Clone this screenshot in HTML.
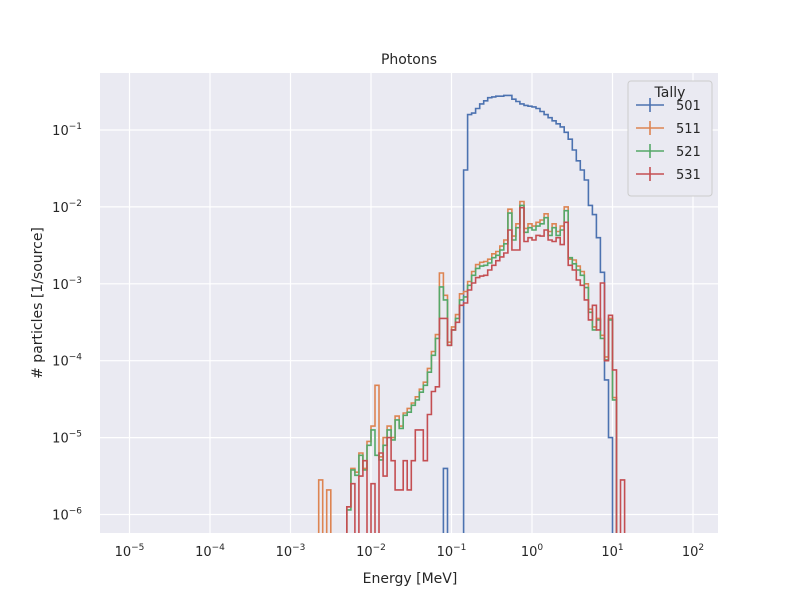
<!DOCTYPE html>
<html><head><meta charset="utf-8"><style>
html,body{margin:0;padding:0;background:#fff;overflow:hidden;width:800px;height:600px;}
svg{display:block;}
svg text{font-family:"DejaVu Sans","Liberation Sans",sans-serif;fill:#262626;}
</style></head><body>
<svg id="chart" width="800" height="600" xmlns="http://www.w3.org/2000/svg">
<defs><clipPath id="clip"><rect x="100" y="73" width="618" height="460"/></clipPath></defs>
<rect x="100" y="73" width="618" height="460" fill="#eaeaf2"/>
<g id="grid"></g>
<g id="series" clip-path="url(#clip)"></g>
<g id="ticks"></g>
<text x="409" y="64" font-size="14" text-anchor="middle">Photons</text>
<text x="410" y="583" font-size="14" text-anchor="middle">Energy [MeV]</text>
<text transform="translate(42,303) rotate(-90)" font-size="14" text-anchor="middle"># particles [1/source]</text>
<g id="legend">
<rect x="628" y="81" width="84" height="115" rx="3" fill="#eaeaf2" stroke="#cccccc"/>
<text x="670" y="97" font-size="14" text-anchor="middle">Tally</text>
</g>
</svg>
<script>
// bin grid: log10(E) start and step
const binStart = -2.70;
const binStep = 0.05;
// log10 of particle counts per bin (null = empty)
const tally501 = [null,null,null,null,null,null,null,null,null,null,null,null,null,null,null,null,null,null,null,null,null,null,null,null,null,null,null,null,null,null,null,null,-5.4,null,null,null,null,-1.52,-0.80,-0.78,-0.72,-0.66,-0.62,-0.58,-0.57,-0.56,-0.56,-0.55,-0.55,-0.60,-0.63,-0.66,-0.68,-0.69,-0.70,-0.72,-0.76,-0.80,-0.84,-0.88,-0.92,-0.96,-1.03,-1.12,-1.26,-1.40,-1.52,-1.65,-1.98,-2.10,-2.40,-2.85,-4.25,-5.0,null,null,null,null];
const tally511 = [null,-5.55,null,-5.68,null,null,null,null,-5.9,-5.4,-5.45,-5.2,-5.4,-5.05,-4.85,-4.32,-5.25,-5.0,-4.85,-5.0,-4.72,-4.85,-4.68,-4.62,-4.55,-4.47,-4.37,-4.28,-4.1,-3.88,-3.66,-2.86,-3.15,-3.76,-3.56,-3.40,-3.13,-3.10,-2.97,-2.84,-2.75,-2.72,-2.71,-2.68,-2.61,-2.58,-2.51,-2.43,-2.03,-2.38,-2.22,-1.93,-2.28,-2.22,-2.25,-2.20,-2.17,-2.09,-2.32,-2.22,-2.32,-2.25,-2.0,-2.68,-2.69,-2.77,-2.84,-3.0,-3.33,-3.56,-3.45,-3.67,-3.95,-3.45,-4.48,null,null,null];
const tally521 = [null,null,null,null,null,null,null,null,-5.94,-5.42,-5.49,-5.23,-5.42,-5.10,-4.90,-5.23,-5.29,-5.10,-4.90,-5.03,-4.77,-4.88,-4.71,-4.67,-4.58,-4.51,-4.41,-4.32,-4.15,-3.93,-3.71,-3.04,-3.21,-3.80,-3.60,-3.45,-3.21,-3.17,-3.02,-2.89,-2.80,-2.77,-2.76,-2.73,-2.66,-2.63,-2.56,-2.48,-2.08,-2.43,-2.27,-1.98,-2.33,-2.27,-2.30,-2.25,-2.22,-2.14,-2.37,-2.27,-2.37,-2.30,-2.05,-2.66,-2.74,-2.82,-2.89,-3.05,-3.37,-3.60,-3.47,-3.71,-3.99,-3.47,-4.51,null,null,null];
const tally531 = [null,null,null,null,null,null,null,null,-5.9,-5.6,null,-5.5,-5.3,null,-5.6,null,-5.2,-5.5,-5.0,-5.3,-5.68,-5.68,-5.3,-5.68,-5.3,-4.9,-4.9,-5.3,-4.7,-4.4,-4.34,-3.45,-3.45,-3.80,-3.60,-3.50,-3.28,-3.25,-3.08,-2.99,-2.92,-2.90,-2.89,-2.82,-2.76,-2.70,-2.65,-2.60,-2.30,-2.56,-2.56,-2.01,-2.45,-2.40,-2.43,-2.37,-2.38,-2.30,-2.43,-2.45,-2.40,-2.49,-2.20,-2.76,-2.82,-2.95,-3.02,-3.21,-3.47,-3.28,-3.60,-2.99,-4.0,-3.41,-4.12,null,-5.55,null];
const seriesNames = ["501","511","521","531"];
const seriesColors = ["#4c72b0","#dd8452","#55a868","#c44e52"];
const xTickExps = [-5,-4,-3,-2,-1,0,1,2];
const yTickExps = [-6,-5,-4,-3,-2,-1];

const X = e => 532 + 80.5*e;
const Y = l => 53.1 - 76.9*l;
const NS = "http://www.w3.org/2000/svg";
const mk = (t,a,p) => {const el=document.createElementNS(NS,t);for(const k in a)el.setAttribute(k,a[k]);p.appendChild(el);return el;};
const grid=document.getElementById('grid'), ticks=document.getElementById('ticks'), ser=document.getElementById('series');

xTickExps.forEach(e=>{
  const x=X(e);
  const gl=mk('line',{x1:x,x2:x,y1:73,y2:533,stroke:'#fff','stroke-width':1.2},grid);
  
  
  const t=mk('text',{x:x,y:556,'font-size':13,'text-anchor':'middle'},ticks);
  
  
  t.textContent='10';
  const s=mk('tspan',{dy:-6,'font-size':9},t); s.textContent=(e<0?'−':'')+Math.abs(e);
});
yTickExps.forEach(e=>{
  const y=Y(e);
  const gl=mk('line',{x1:100,x2:718,y1:y,y2:y,stroke:'#fff','stroke-width':1.2},grid);
  
  
  const t=mk('text',{x:82,y:y+5,'font-size':13,'text-anchor':'end'},ticks);
  
  
  t.textContent='10';
  const s=mk('tspan',{dy:-6,'font-size':9},t); s.textContent=(e<0?'−':'')+Math.abs(e);
});

[tally501,tally511,tally521,tally531].forEach((arr,si)=>{
  let d='', prevY=Y(-9);
  d+='M'+X(binStart).toFixed(1)+','+prevY.toFixed(1);
  arr.forEach((v,i)=>{
    const x0=X(binStart+i*binStep), x1=X(binStart+(i+1)*binStep);
    const y=Y(v===null?-9:v);
    d+=' L'+x0.toFixed(1)+','+y.toFixed(1)+' L'+x1.toFixed(1)+','+y.toFixed(1);
  });
  d+=' L'+X(binStart+arr.length*binStep).toFixed(1)+','+Y(-9).toFixed(1);
  const p=mk('path',{d:d,fill:'none',stroke:seriesColors[si],'stroke-width':1.6},ser);
  
  
});

const leg=document.getElementById('legend');
seriesNames.forEach((n,i)=>{
  const y=105+i*23;
  const g=mk('g',{},leg);
  
  
  mk('line',{x1:636,x2:664,y1:y,y2:y,stroke:seriesColors[i],'stroke-width':1.6},g);
  mk('line',{x1:650,x2:650,y1:y-7,y2:y+7,stroke:seriesColors[i],'stroke-width':1.6},g);
  const t=mk('text',{x:676,y:y+5,'font-size':13},g); t.textContent=n;
});
</script>
</body></html>
